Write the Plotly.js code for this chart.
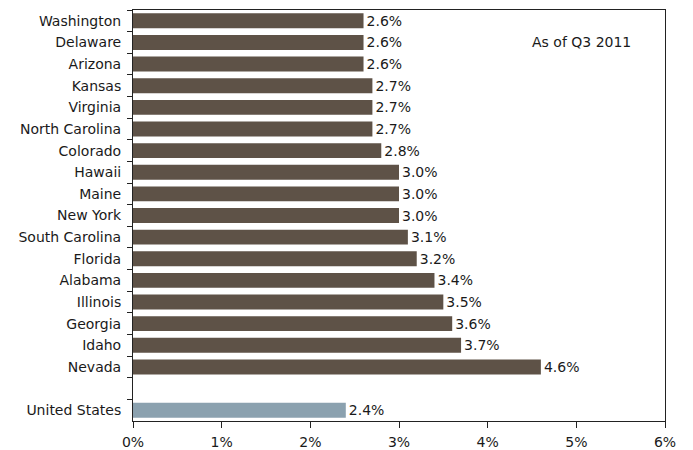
<!DOCTYPE html>
<html>
<head>
<meta charset="utf-8">
<script src="https://cdn.plot.ly/plotly-3.0.1.min.js"></script>
<style>html,body{margin:0;padding:0;background:#fff;}#chart{width:693px;height:450px;}</style>
</head>
<body>
<div id="chart"></div>
<script>
const states = ["Washington","Delaware","Arizona","Kansas","Virginia","North Carolina","Colorado","Hawaii","Maine","New York","South Carolina","Florida","Alabama","Illinois","Georgia","Idaho","Nevada"];
const stateValues = [2.6,2.6,2.6,2.7,2.7,2.7,2.8,3.0,3.0,3.0,3.1,3.2,3.4,3.5,3.6,3.7,4.6];
const usLabel = ["United States"];
const usValues = [2.4];
const gapCategory = " ";
const categoryOrder = states.concat([gapCategory], usLabel);
const xTicks = [0,1,2,3,4,5,6];
const xTickText = ["0%","1%","2%","3%","4%","5%","6%"];

const font = "DejaVu Sans, Verdana, sans-serif";
const txt = "#1a1a1a";
const traces = [
  {type:"bar", orientation:"h", y:states, x:stateValues, marker:{color:"#5E5247"}, width:0.69,
   text:stateValues.map(v=>v.toFixed(1)+"%"), textposition:"outside", cliponaxis:false, constraintext:"none",
   textfont:{family:font,size:14,color:txt}, hoverinfo:"skip"},
  {type:"bar", orientation:"h", y:usLabel, x:usValues, marker:{color:"#8BA1AF"}, width:0.69,
   text:usValues.map(v=>v.toFixed(1)+"%"), textposition:"outside", cliponaxis:false, constraintext:"none",
   textfont:{family:font,size:14,color:txt}, hoverinfo:"skip"}
];
const layout = {
  width:693, height:450,
  margin:{l:133, r:28, t:10, b:29},
  paper_bgcolor:"#fff", plot_bgcolor:"#fff",
  showlegend:false, barmode:"overlay",
  font:{family:font, size:14, color:txt},
  xaxis:{range:[0,6], tickvals:xTicks, ticktext:xTickText, showgrid:false, zeroline:false,
         showline:true, mirror:true, linecolor:"#222", linewidth:1,
         ticks:"outside", ticklen:6, tickcolor:"#222", ticklabelstandoff:2,
         tickfont:{family:font,size:14,color:txt}},
  yaxis:{type:"category", categoryorder:"array", categoryarray:categoryOrder,
         range:[categoryOrder.length-0.5,-0.5], showgrid:false, zeroline:false,
         showline:true, mirror:true, linecolor:"#222", linewidth:1,
         ticks:"outside", ticklen:5, tickcolor:"#222", tickson:"boundaries",
         tickfont:{family:font,size:14,color:txt}, ticklabelstandoff:8},
  annotations:[{text:"As of Q3 2011", xref:"paper", yref:"paper", x:0.94, y:0.922,
                xanchor:"right", yanchor:"middle", showarrow:false,
                font:{family:font,size:14,color:txt}}]
};
Plotly.newPlot("chart", traces, layout, {displayModeBar:false, staticPlot:true});
</script>
</body>
</html>
